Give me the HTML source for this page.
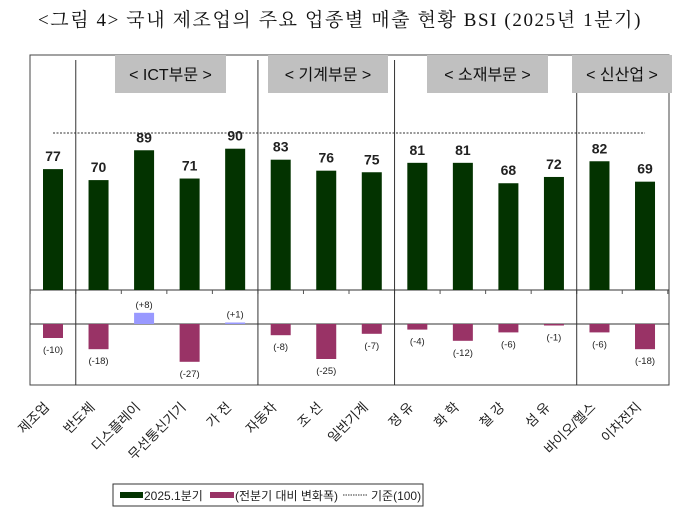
<!DOCTYPE html>
<html><head><meta charset="utf-8">
<style>
body{margin:0;background:#fff;width:680px;height:516px;overflow:hidden}
#title{position:absolute;left:0;top:5px;width:680px;text-align:center;font-family:"Liberation Serif","Noto Serif CJK KR","Noto Serif CJK SC",serif;font-size:19px;letter-spacing:1.6px;color:#111;white-space:nowrap}
svg{position:absolute;left:0;top:0}
</style></head>
<body>
<div id="title">&lt;그림 4&gt; 국내 제조업의 주요 업종별 매출 현황 BSI (2025년 1분기)</div>
<svg id="chart" width="680" height="516"></svg>
<script>
const categories=["제조업","반도체","디스플레이","무선통신기기","가 전","자동차","조 선","일반기계","정 유","화 학","철 강","섬 유","바이오/헬스","이차전지"];
const bsiValues=[77,70,89,71,90,83,76,75,81,81,68,72,82,69];
const changeValues=[-10,-18,8,-27,1,-8,-25,-7,-4,-12,-6,-1,-6,-18];
const groupNames=["< ICT부문 >","< 기계부문 >","< 소재부문 >","< 신산업 >"];
const baselineValue=100;

const NS="http://www.w3.org/2000/svg";
const svg=document.getElementById('chart');
function mk(t,a,p){const e=document.createElementNS(NS,t);for(const k in a)e.setAttribute(k,a[k]);(p||svg).appendChild(e);return e;}
const x0=53,step=45.54,bw=20;
const xPos=i=>x0+i*step;
const yTop=v=>290-v*1.57;
const yBot=v=>324-v*1.4;
const font='"Liberation Sans","Noto Sans CJK KR",sans-serif';

let f=mk('rect',{x:30,y:55,width:639,height:330,fill:'none',stroke:'#444','stroke-width':1});

let l1=mk('line',{x1:30,y1:290,x2:669,y2:290,stroke:'#333'});

let l2=mk('line',{x1:30,y1:324,x2:669,y2:324,stroke:'#333'});

for(let i=0;i<=categories.length;i++){const tx=xPos(i)-step/2;let t=mk('line',{x1:tx,y1:290,x2:tx,y2:294,stroke:'#555'});
}

const seps=[[0.5,60],[4.5,60],[7.5,60],[11.5,93]];
seps.forEach(s=>{const sx=xPos(s[0]);let e=mk('line',{x1:sx,y1:s[1],x2:sx,y2:385,stroke:'#333'});
});

const hdr=[[115,111],[268,120],[427,121],[572,100]];
groupNames.forEach((g,i)=>{const r=mk('rect',{x:hdr[i][0],y:55,width:hdr[i][1],height:38,fill:'#c0c0c0'});

const t=mk('text',{x:hdr[i][0]+hdr[i][1]/2,y:80,'text-anchor':'middle','font-size':16,'font-family':font,fill:'#111'});t.textContent=g;
});

let bl=mk('line',{x1:xPos(0),y1:yTop(baselineValue),x2:xPos(13),y2:yTop(baselineValue),stroke:'#333','stroke-dasharray':'2,1.5','stroke-width':1});


categories.forEach((c,i)=>{
 const cx=xPos(i),v=bsiValues[i],d=changeValues[i];
 const b=mk('rect',{x:cx-bw/2,y:yTop(v),width:bw,height:290-yTop(v),fill:'#033300'});
 
 const t=mk('text',{x:cx,y:yTop(v)-8,'text-anchor':'middle','font-size':14,'font-weight':'bold','font-family':font,fill:'#222'});t.textContent=v;
 
 const h=Math.max(Math.abs(d*1.4),1.5);
 const cb=mk('rect',{x:cx-bw/2,y:d>=0?324-h:324,width:bw,height:h,fill:d>=0?'#9999ff':'#993366'});
 
 const ly=d>=0?yBot(d)-5:yBot(d)+15;
 const ct=mk('text',{x:cx,y:ly,'text-anchor':'middle','font-size':9.5,'font-family':font,fill:'#222'});ct.textContent='('+(d>0?'+':'')+d+')';
 
 const ax=cx-3,ay=408;
 const xl=mk('text',{x:ax,y:ay,'text-anchor':'end','font-size':13.5,'font-family':font,fill:'#222',transform:`rotate(-45 ${ax} ${ay})`});xl.textContent=c;
 
});

const lg=mk('g',{});
mk('rect',{x:113,y:484,width:310,height:22,fill:'#fff',stroke:'#333'},lg);
mk('rect',{x:120,y:492,width:23,height:6,fill:'#033300'},lg);
let lt1=mk('text',{x:144,y:500,'font-size':12,'font-family':font,fill:'#222'},lg);lt1.textContent='2025.1분기';
mk('rect',{x:210,y:492,width:24,height:6,fill:'#993366'},lg);
let lt2=mk('text',{x:235,y:500,'font-size':12,'font-family':font,fill:'#222'},lg);lt2.textContent='(전분기 대비 변화폭)';
mk('line',{x1:343,y1:495,x2:368,y2:495,stroke:'#333','stroke-dasharray':'1.5,1'},lg);
let lt3=mk('text',{x:371,y:500,'font-size':12,'font-family':font,fill:'#222'},lg);lt3.textContent='기준(100)';
</script>
</body></html>
